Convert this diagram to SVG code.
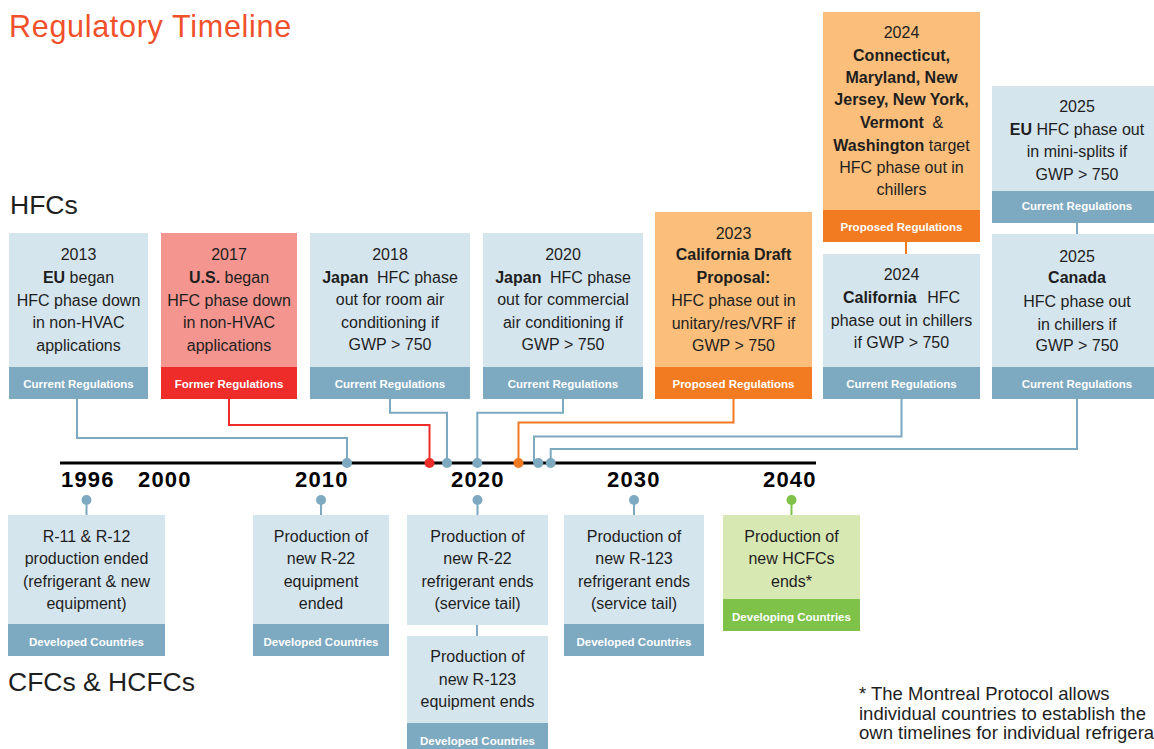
<svg xmlns="http://www.w3.org/2000/svg" width="1154" height="749" viewBox="0 0 1154 749">
<style>
text{font-family:"Liberation Sans",Arial,sans-serif;fill:#1e1e1e}
.t{font-size:16px;text-anchor:middle}
.b{font-weight:bold}
.f{font-size:11.5px;font-weight:bold;fill:#fff;text-anchor:middle}
.yr{font-size:22px;font-weight:bold;letter-spacing:1.2px;fill:#000}
.sec{font-size:26.5px}
.fn{font-size:18.5px}
.lb{fill:#D5E5EE}.fb{fill:#7DA9C1}
.lr{fill:#F4958F}.fr{fill:#EE2D2A}
.lo{fill:#FBBE7B}.fo{fill:#F27B22}
.lg{fill:#D8E8B3}.fg{fill:#7EC24A}
.cb{fill:none;stroke:#7DA9C1;stroke-width:2}
.cr{fill:none;stroke:#EE2D2A;stroke-width:2}
.co{fill:none;stroke:#F27B22;stroke-width:2}
.cg{fill:none;stroke:#7EC24A;stroke-width:2}
</style>
<rect width="1154" height="749" fill="#fff"/>
<text x="9" y="36.5" style="font-size:30.5px;letter-spacing:0.7px;fill:#F0502A">Regulatory Timeline</text>
<text class="sec" x="10" y="214">HFCs</text>
<text class="sec" x="8" y="690.5">CFCs &amp; HCFCs</text>

<g id="connectors">
<line x1="60" y1="463" x2="816" y2="463" stroke="#000" stroke-width="3"/>
<path class="cb" d="M77 399V438H347V463"/>
<path class="cr" d="M229 399V425H429.5V463"/>
<path class="cb" d="M390 399V412.7H447V463"/>
<path class="cb" d="M563 399V412.7H477.3V463"/>
<path class="co" d="M733.5 399V422.5H518.5V463"/>
<path class="cb" d="M901.5 399V436.5H534V463"/>
<path class="cb" d="M1077 399V449H550.7V463"/>
<path class="co" d="M906 242V254"/>
<path class="cb" d="M1077 223V234"/>
<path class="cb" d="M477 625V636"/>
<circle cx="347" cy="463" r="5" fill="#7DA9C1"/>
<circle cx="429.5" cy="463" r="5" fill="#EE2D2A"/>
<circle cx="447" cy="463" r="5" fill="#7DA9C1"/>
<circle cx="477.3" cy="463" r="5" fill="#7DA9C1"/>
<circle cx="518.5" cy="463" r="5" fill="#F27B22"/>
<circle cx="538.3" cy="463" r="5" fill="#7DA9C1"/>
<circle cx="550.7" cy="463" r="5" fill="#7DA9C1"/>
<path class="cb" d="M86.5 500V515M321 500V515M477.5 500V515M634 500V515"/>
<path class="cg" d="M791.5 500V515"/>
<circle cx="86.5" cy="500" r="5" fill="#7DA9C1"/>
<circle cx="321" cy="500" r="5" fill="#7DA9C1"/>
<circle cx="477.5" cy="500" r="5" fill="#7DA9C1"/>
<circle cx="634" cy="500" r="5" fill="#7DA9C1"/>
<circle cx="791.5" cy="500" r="5" fill="#7EC24A"/>
</g>

<g id="years">
<text class="yr" x="61" y="487">1996</text>
<text class="yr" x="138" y="487">2000</text>
<text class="yr" x="295" y="487">2010</text>
<text class="yr" x="451" y="487">2020</text>
<text class="yr" x="607" y="487">2030</text>
<text class="yr" x="763" y="487">2040</text>
</g>

<g id="hfc2013">
<rect class="lb" x="9" y="233" width="139" height="134"/>
<rect class="fb" x="9" y="367" width="139" height="32"/>
<text class="t" x="78.5" y="260">2013</text>
<text class="t" x="78.5" y="283"><tspan class="b">EU</tspan> began</text>
<text class="t" x="78.5" y="305.5">HFC phase down</text>
<text class="t" x="78.5" y="328">in non-HVAC</text>
<text class="t" x="78.5" y="351">applications</text>
<text class="f" x="78.5" y="387.5">Current Regulations</text>
</g>

<g id="hfc2017">
<rect class="lr" x="161" y="233" width="136" height="134"/>
<rect class="fr" x="161" y="367" width="136" height="32"/>
<text class="t" x="229" y="260">2017</text>
<text class="t" x="229" y="283"><tspan class="b">U.S.</tspan> began</text>
<text class="t" x="229" y="305.5">HFC phase down</text>
<text class="t" x="229" y="328">in non-HVAC</text>
<text class="t" x="229" y="351">applications</text>
<text class="f" x="229" y="387.5">Former Regulations</text>
</g>

<g id="hfc2018">
<rect class="lb" x="310" y="233" width="160" height="134"/>
<rect class="fb" x="310" y="367" width="160" height="32"/>
<text class="t" x="390" y="260">2018</text>
<text class="t" x="390" y="282.7"><tspan class="b">Japan</tspan><tspan dx="4"> HFC phase</tspan></text>
<text class="t" x="390" y="305.3">out for room air</text>
<text class="t" x="390" y="327.7">conditioning if</text>
<text class="t" x="390" y="350">GWP &gt; 750</text>
<text class="f" x="390" y="387.5">Current Regulations</text>
</g>

<g id="hfc2020">
<rect class="lb" x="483" y="233" width="160" height="134"/>
<rect class="fb" x="483" y="367" width="160" height="32"/>
<text class="t" x="563" y="260">2020</text>
<text class="t" x="563" y="282.7"><tspan class="b">Japan</tspan><tspan dx="4"> HFC phase</tspan></text>
<text class="t" x="563" y="305.3">out for commercial</text>
<text class="t" x="563" y="327.7">air conditioning if</text>
<text class="t" x="563" y="350">GWP &gt; 750</text>
<text class="f" x="563" y="387.5">Current Regulations</text>
</g>

<g id="hfc2023">
<rect class="lo" x="655" y="212" width="157" height="155"/>
<rect class="fo" x="655" y="367" width="157" height="32"/>
<text class="t" x="733.5" y="239">2023</text>
<text class="t b" x="733.5" y="260">California Draft</text>
<text class="t b" x="733.5" y="283">Proposal:</text>
<text class="t" x="733.5" y="306">HFC phase out in</text>
<text class="t" x="733.5" y="329">unitary/res/VRF if</text>
<text class="t" x="733.5" y="351">GWP &gt; 750</text>
<text class="f" x="733.5" y="387.5">Proposed Regulations</text>
</g>

<g id="hfc2024states">
<rect class="lo" x="823" y="12" width="157" height="198"/>
<rect class="fo" x="823" y="210" width="157" height="32"/>
<text class="t" x="901.5" y="37.5">2024</text>
<text class="t b" x="901.5" y="60.5">Connecticut,</text>
<text class="t b" x="901.5" y="82.7">Maryland, New</text>
<text class="t b" x="901.5" y="105.3">Jersey, New York,</text>
<text class="t" x="901.5" y="128"><tspan class="b">Vermont</tspan><tspan dx="4"> &amp;</tspan></text>
<text class="t" x="901.5" y="150.5"><tspan class="b">Washington</tspan> target</text>
<text class="t" x="901.5" y="173">HFC phase out in</text>
<text class="t" x="901.5" y="195">chillers</text>
<text class="f" x="901.5" y="230.5">Proposed Regulations</text>
</g>

<g id="hfc2024ca">
<rect class="lb" x="823" y="254" width="157" height="113"/>
<rect class="fb" x="823" y="367" width="157" height="32"/>
<text class="t" x="901.5" y="280">2024</text>
<text class="t" x="901.5" y="302.7"><tspan class="b">California</tspan><tspan dx="6"> HFC</tspan></text>
<text class="t" x="901.5" y="325.5">phase out in chillers</text>
<text class="t" x="901.5" y="347.5">if GWP &gt; 750</text>
<text class="f" x="901.5" y="387.5">Current Regulations</text>
</g>

<g id="hfc2025eu">
<rect class="lb" x="992" y="86" width="170" height="105"/>
<rect class="fb" x="992" y="191" width="170" height="32"/>
<text class="t" x="1077" y="112.3">2025</text>
<text class="t" x="1077" y="134.7"><tspan class="b">EU</tspan> HFC phase out</text>
<text class="t" x="1077" y="157.3">in mini-splits if</text>
<text class="t" x="1077" y="180">GWP &gt; 750</text>
<text class="f" x="1077" y="209.5">Current Regulations</text>
</g>

<g id="hfc2025ca">
<rect class="lb" x="992" y="234" width="170" height="133"/>
<rect class="fb" x="992" y="367" width="170" height="32"/>
<text class="t" x="1077" y="261.7">2025</text>
<text class="t b" x="1077" y="283.3">Canada</text>
<text class="t" x="1077" y="306.7">HFC phase out</text>
<text class="t" x="1077" y="329.5">in chillers if</text>
<text class="t" x="1077" y="351">GWP &gt; 750</text>
<text class="f" x="1077" y="387.5">Current Regulations</text>
</g>

<g id="cfc1996">
<rect class="lb" x="8" y="515" width="157" height="109"/>
<rect class="fb" x="8" y="624" width="157" height="32"/>
<text class="t" x="86.5" y="541.5">R-11 &amp; R-12</text>
<text class="t" x="86.5" y="564">production ended</text>
<text class="t" x="86.5" y="586.5">(refrigerant &amp; new</text>
<text class="t" x="86.5" y="609">equipment)</text>
<text class="f" x="86.5" y="645.5">Developed Countries</text>
</g>

<g id="cfc2010">
<rect class="lb" x="253" y="515" width="136" height="109"/>
<rect class="fb" x="253" y="624" width="136" height="32"/>
<text class="t" x="321" y="541.5">Production of</text>
<text class="t" x="321" y="564">new R-22</text>
<text class="t" x="321" y="586.5">equipment</text>
<text class="t" x="321" y="609">ended</text>
<text class="f" x="321" y="645.5">Developed Countries</text>
</g>

<g id="cfc2020a">
<rect class="lb" x="407" y="515" width="141" height="110"/>
<text class="t" x="477.5" y="541.5">Production of</text>
<text class="t" x="477.5" y="564">new R-22</text>
<text class="t" x="477.5" y="586.5">refrigerant ends</text>
<text class="t" x="477.5" y="609">(service tail)</text>
</g>

<g id="cfc2020b">
<rect class="lb" x="407" y="636" width="141" height="87"/>
<rect class="fb" x="407" y="723" width="141" height="32"/>
<text class="t" x="477.5" y="662">Production of</text>
<text class="t" x="477.5" y="685">new R-123</text>
<text class="t" x="477.5" y="707">equipment ends</text>
<text class="f" x="477.5" y="744.5">Developed Countries</text>
</g>

<g id="cfc2030">
<rect class="lb" x="564" y="515" width="140" height="109"/>
<rect class="fb" x="564" y="624" width="140" height="32"/>
<text class="t" x="634" y="541.5">Production of</text>
<text class="t" x="634" y="564">new R-123</text>
<text class="t" x="634" y="586.5">refrigerant ends</text>
<text class="t" x="634" y="609">(service tail)</text>
<text class="f" x="634" y="645.5">Developed Countries</text>
</g>

<g id="cfc2040">
<rect class="lg" x="723" y="515" width="137" height="84"/>
<rect class="fg" x="723" y="599" width="137" height="32"/>
<text class="t" x="791.5" y="541.5">Production of</text>
<text class="t" x="791.5" y="564">new HCFCs</text>
<text class="t" x="791.5" y="586.5">ends*</text>
<text class="f" x="791.5" y="620.5">Developing Countries</text>
</g>

<g id="footnote">
<text class="fn" x="859" y="700">* The Montreal Protocol allows</text>
<text class="fn" x="859" y="719.5">individual countries to establish the</text>
<text class="fn" x="859" y="739">own timelines for individual refrigera</text>
</g>
</svg>
